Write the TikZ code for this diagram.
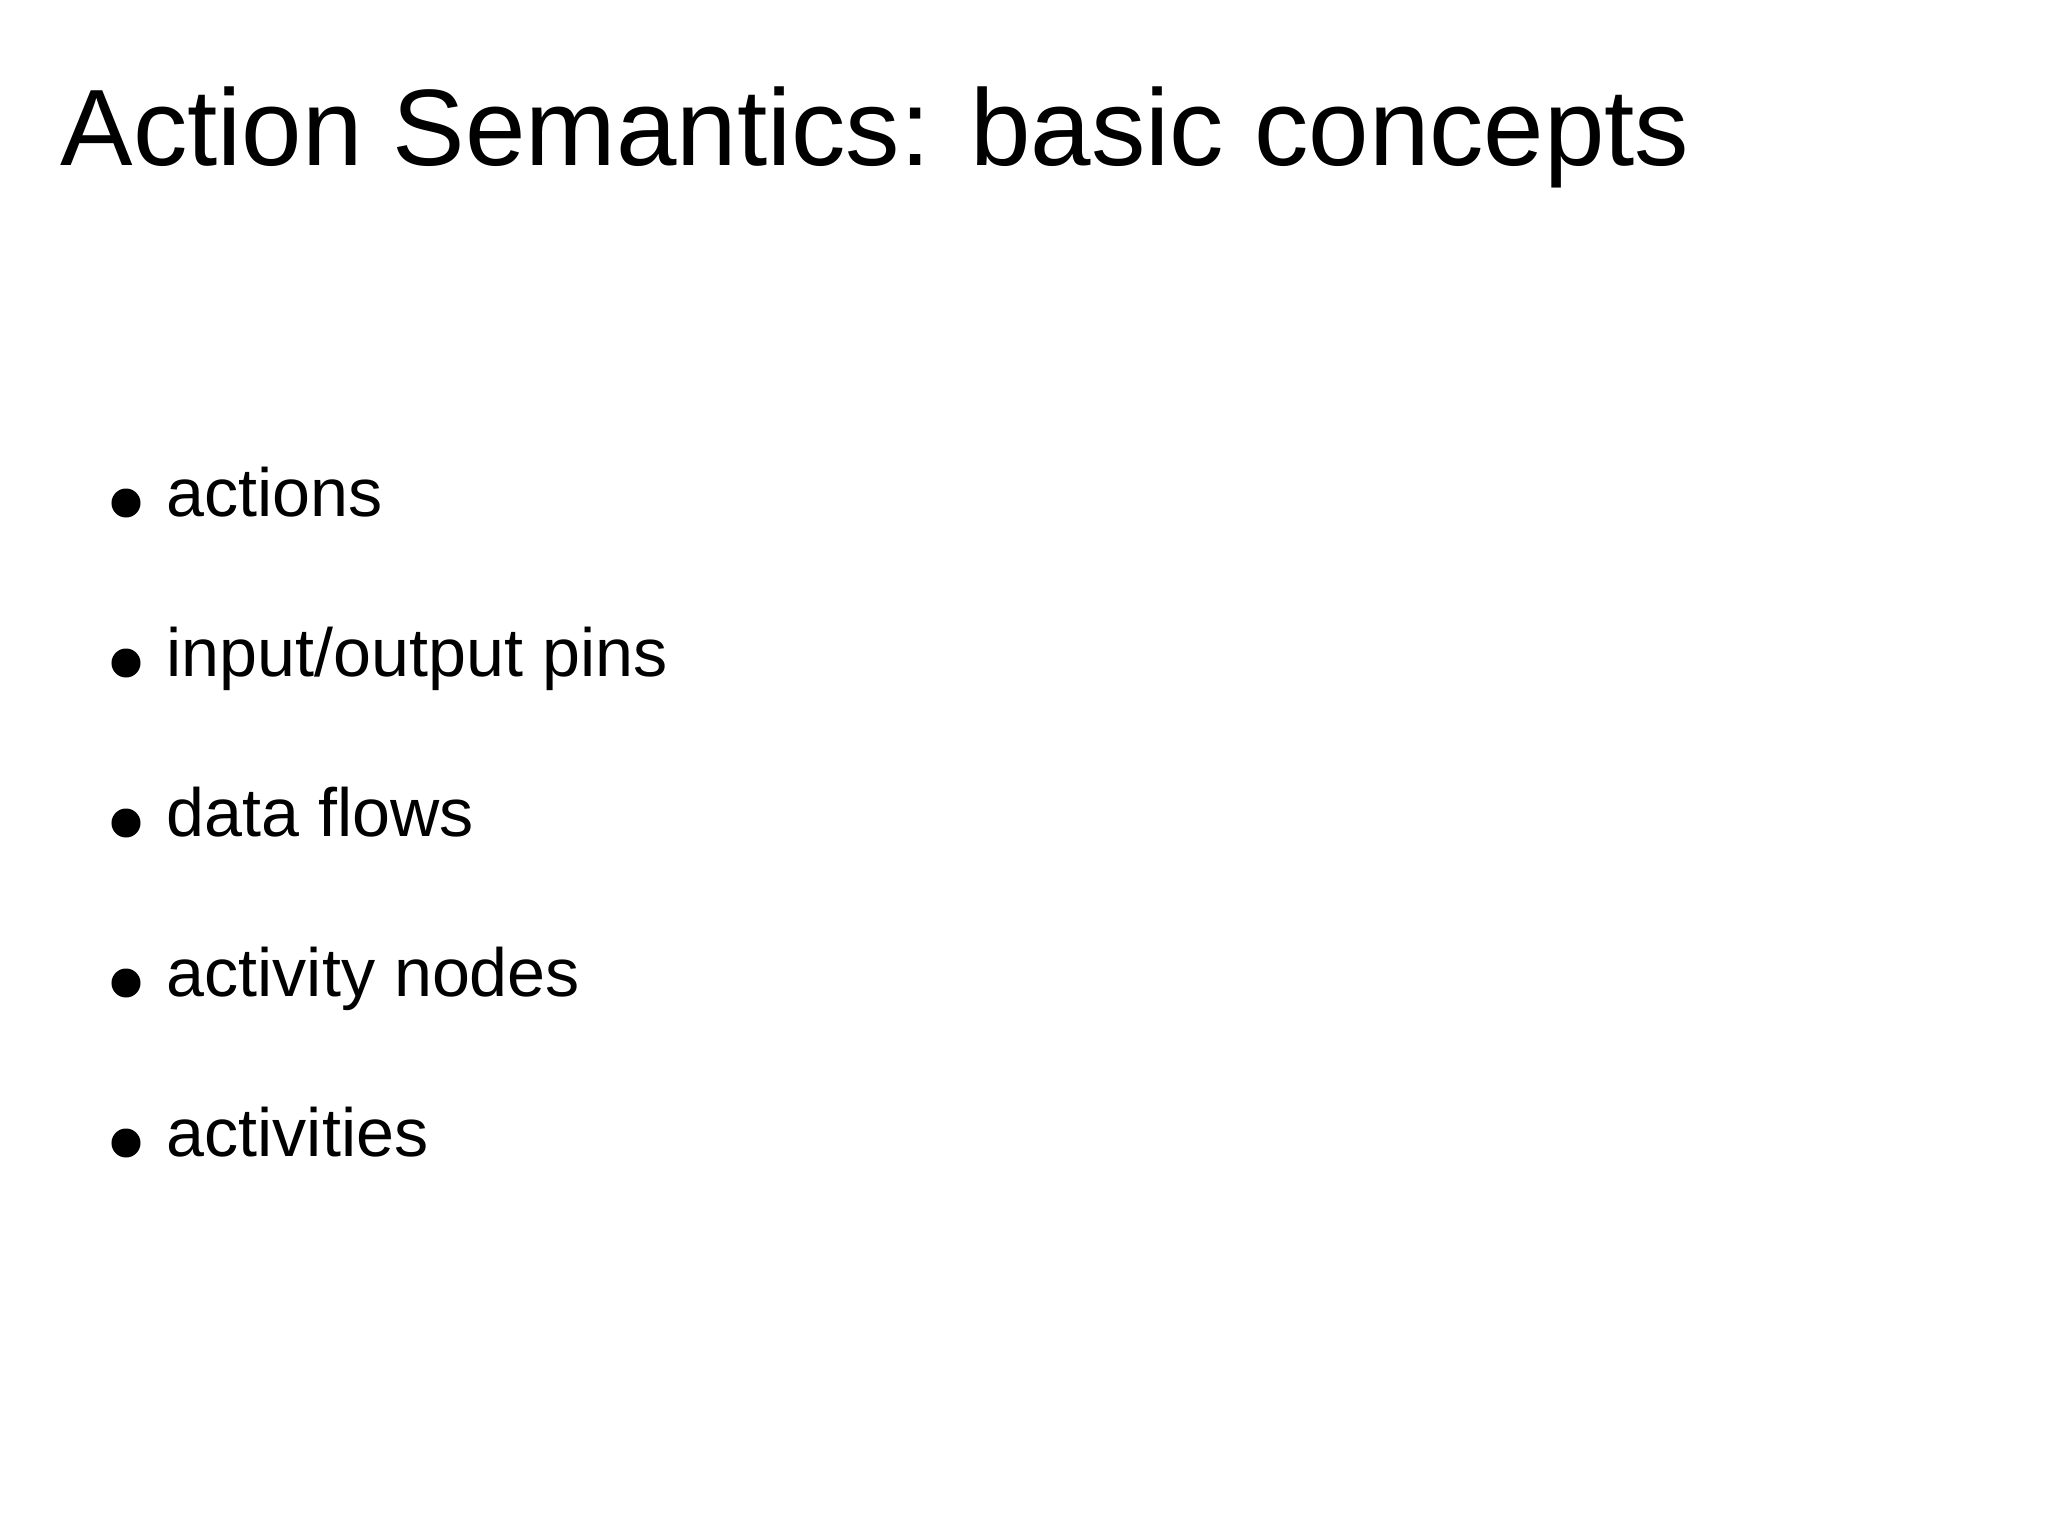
\documentclass[tikz,border=0pt]{standalone}
\usepackage{fontspec}
\setmainfont{Liberation Sans}
\begin{document}
\begin{tikzpicture}[x=0.01cm,y=-0.01cm,
  item/.style={anchor=base west,inner sep=0pt,font=\fontsize{19.4}{23}\selectfont},
  dot/.style={circle,fill=black,inner sep=0pt,minimum size=0.29cm}]
\useasboundingbox (0,0) rectangle (2048,1536);
\node[anchor=base west,inner sep=0pt,font=\fontsize{30.9}{36}\selectfont] (title) at (60,165) {Action Semantics: basic concepts};
\foreach \t [count=\i] in {actions,input/output pins,data flows,activity nodes,activities}{
  \node[dot] (b\i) at (126,{503+160*(\i-1)}) {};
  \node[item] (t\i) at (166,{516+160*(\i-1)}) {\t};
}
\end{tikzpicture}
\end{document}
